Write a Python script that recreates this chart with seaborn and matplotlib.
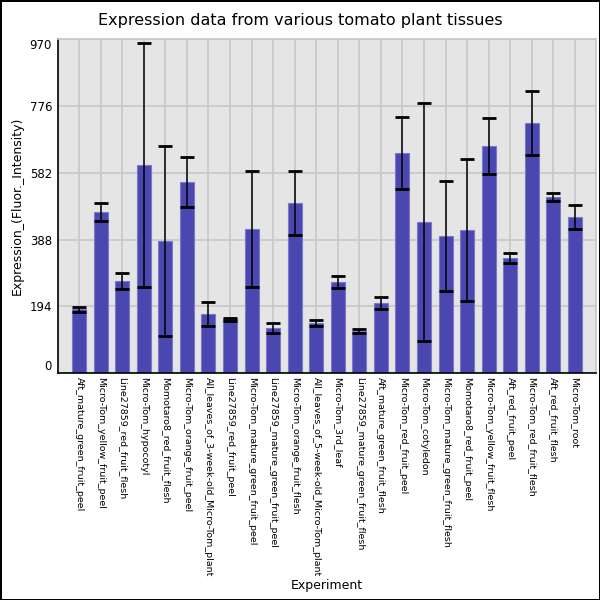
import numpy as np
import pandas as pd
import matplotlib
matplotlib.use('Agg')
import matplotlib.pyplot as plt
import seaborn as sns

experiments = [
    'Aft_mature_green_fruit_peel',
    'Micro-Tom_yellow_fruit_peel',
    'Line27859_red_fruit_flesh',
    'Micro-Tom_hypocotyl',
    'Momotaro8_red_fruit_flesh',
    'Micro-Tom_orange_fruit_peel',
    'All_leaves_of_3-week-old_Micro-Tom_plant',
    'Line27859_red_fruit_peel',
    'Micro-Tom_mature_green_fruit_peel',
    'Line27859_mature_green_fruit_peel',
    'Micro-Tom_orange_fruit_flesh',
    'All_leaves_of_5-week-old_Micro-Tom_plant',
    'Micro-Tom_3rd_leaf',
    'Line27859_mature_green_fruit_flesh',
    'Aft_mature_green_fruit_flesh',
    'Micro-Tom_red_fruit_peel',
    'Micro-Tom_cotyledon',
    'Micro-Tom_mature_green_fruit_flesh',
    'Momotaro8_red_fruit_peel',
    'Micro-Tom_yellow_fruit_flesh',
    'Aft_red_fruit_peel',
    'Micro-Tom_red_fruit_flesh',
    'Aft_red_fruit_flesh',
    'Micro-Tom_root',
]
expression = [186, 468, 268, 605, 384, 556, 172, 157, 419, 132, 495, 145,
              265, 123, 204, 640, 440, 399, 416, 660, 335, 727, 512, 454]
error = [7, 25, 22, 355, 276, 73, 36, 4, 168, 15, 93, 9,
         17, 6, 17, 105, 346, 159, 205, 82, 14, 93, 12, 36]
y_ticks = [0, 194, 388, 582, 776, 970]

BAR_COLOR = '#4B47B1'

df = pd.DataFrame({'experiment': experiments, 'expression': expression, 'error': error})

sns.set_theme(style='darkgrid', rc={
    'axes.facecolor': '#E5E5E5',
    'grid.color': '#C8C8C8',
    'grid.linewidth': 1.2,
    'text.color': 'black',
    'axes.labelcolor': 'black',
    'xtick.color': 'black',
    'ytick.color': 'black',
})
plt.rcParams['font.family'] = ['DejaVu Sans']

fig = plt.figure(figsize=(6, 6), dpi=100)
fig.patch.set_facecolor('white')
fig.patch.set_edgecolor('black')
fig.patch.set_linewidth(2)
ax = fig.add_axes([0.096, 0.378, 0.898, 0.5565])

sns.barplot(data=df, x='experiment', y='expression', color=BAR_COLOR,
            saturation=1, width=0.65, edgecolor='#7C79C9', linewidth=0.8,
            errorbar=None, ax=ax, zorder=2)
ax.errorbar(np.arange(len(df)), df['expression'], yerr=df['error'],
            fmt='none', ecolor='black', elinewidth=1.1, capsize=5,
            capthick=2, zorder=3)

ax.set_xlim(-1, len(df))
ax.set_ylim(0, 970)
ax.set_yticks(y_ticks)
ax.set_yticklabels([str(v) for v in y_ticks], fontsize=8.5)
ax.tick_params(axis='both', length=0, pad=4)
ax.tick_params(axis='x', pad=3)
ax.set_xticks(np.arange(len(df)))
ax.set_xticklabels(experiments, rotation=270, fontsize=6.8, va='top', ha='center')
ylabels = ax.get_yticklabels()
ylabels[0].set_va('bottom')
ylabels[-1].set_va('top')

ax.grid(True, axis='both', zorder=0)
ax.set_axisbelow(True)
for side in ['top', 'right']:
    ax.spines[side].set_visible(True)
    ax.spines[side].set_color('#C8C8C8')
for side in ['left', 'bottom']:
    ax.spines[side].set_visible(True)
    ax.spines[side].set_color('black')
    ax.spines[side].set_linewidth(1.2)

ax.set_xlabel('Experiment', fontsize=9)
ax.set_ylabel('Expression_(Fluor._Intensity)', fontsize=9)
ax.xaxis.set_label_coords(0.5, -0.635)
ax.yaxis.set_label_coords(-0.074, 0.5)
ax.xaxis.label.set_va('center')
ax.yaxis.label.set_va('center')

fig.suptitle('Expression data from various tomato plant tissues', fontsize=11.5,
             y=0.965, va='center')

fig.savefig('out.png', dpi=100, facecolor=fig.get_facecolor(), edgecolor=fig.get_edgecolor())
